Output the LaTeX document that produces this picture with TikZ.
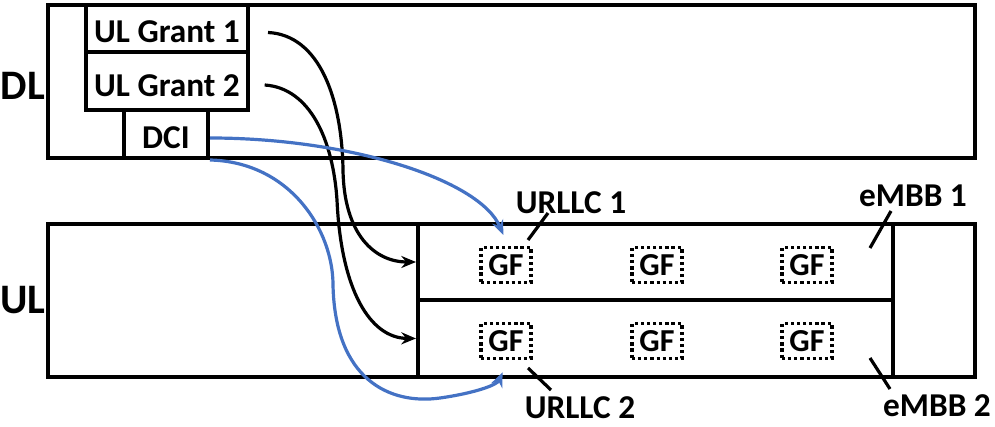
\documentclass[tikz,border=0pt]{standalone}
\usepackage{fontspec}
\setmainfont{Carlito}
\usetikzlibrary{fit,arrows.meta}
\definecolor{myblue}{HTML}{4472C4}
\begin{document}
\begin{tikzpicture}[x=0.75pt,y=-0.75pt,
  box/.style={draw, line width=3pt, inner sep=0pt, fit={#1}},
  txt/.style={font=\fontsize{25}{30}\selectfont\bfseries, inner sep=0pt},
  big/.style={font=\fontsize{31.5}{36}\selectfont\bfseries, inner sep=0pt},
  gfbox/.style={draw, line width=2.6pt, dash pattern=on 2.4pt off 2.2pt,
    minimum width=37.5pt, minimum height=26pt, inner sep=0pt,
    font=\fontsize{24}{28}\selectfont\bfseries},
  link/.style={line width=2.4pt, -{Stealth[length=11pt,width=9pt]}},
  bluelink/.style={link, draw=myblue, -{Stealth[length=11pt,width=9pt,fill=myblue]}},
  tickline/.style={line width=2.4pt}
]
\useasboundingbox (0,0) rectangle (995,427);

% DL area
\node[box={(48,5) (975,158)}] (dl) {};
\node[box={(86,5) (248,52)}] (g1) {};
\node[box={(86,52) (248,110)}] (g2) {};
\node[box={(124,110) (208,158)}] (dci) {};
\node[txt] (g1t) at (167,32) {UL Grant 1};
\node[txt] (g2t) at (167,86) {UL Grant 2};
\node[txt] (dcit) at (166,138) {DCI};
\node[big] (dllab) at (23,86) {DL};

% UL area
\node[box={(48,224) (975,377)}] (ul) {};
\node[box={(418,224) (893,300)}] (row1) {};
\node[box={(418,300) (893,377)}] (row2) {};
\node[big] (ullab) at (23,300) {UL};

% GF boxes
\node[gfbox] (gf11) at (506,265) {GF};
\node[gfbox] (gf12) at (657,265) {GF};
\node[gfbox] (gf13) at (807,265) {GF};
\node[gfbox] (gf21) at (506,341) {GF};
\node[gfbox] (gf22) at (657,341) {GF};
\node[gfbox] (gf23) at (807,341) {GF};

% labels
\node[txt] (u1) at (571,203) {URLLC 1};
\node[txt] (e1) at (913,196) {eMBB 1};
\node[txt] (u2) at (580,408) {URLLC 2};
\node[txt] (e2) at (937,406) {eMBB 2};

% label ticks
\coordinate (u1a) at (528,240); \coordinate (u1b) at (548,213);
\coordinate (e1a) at (870,248); \coordinate (e1b) at (891,211);
\coordinate (u2a) at (528,368); \coordinate (u2b) at (551,390);
\coordinate (e2a) at (870,358); \coordinate (e2b) at (890,389);
\draw[tickline] (u1a) -- (u1b);
\draw[tickline] (e1a) -- (e1b);
\draw[tickline] (u2a) -- (u2b);
\draw[tickline] (e2a) -- (e2b);

% grant connectors
\draw[link] ([xshift=13.5pt,yshift=-3pt]g1.east)
  .. controls (320,35) and (342,100) .. (343,170)
  .. controls (344,235) and (375,262) .. (row1.west);
\draw[link] ([xshift=11pt,yshift=-3pt]g2.east)
  .. controls (310,88) and (333,140) .. (337,200)
  .. controls (341,290) and (370,338) .. (row2.west);

% DCI connectors
\draw[bluelink, shorten >=9pt] ([yshift=-3pt]dci.east)
  .. controls (350,138) and (480,180) .. ([xshift=1.5pt]gf11.north);
\draw[bluelink, shorten >=10pt] (dci.south east)
  .. controls (290,162) and (333,230) .. (333,285)
  .. controls (335,380) and (390,405) .. (440,398)
  .. controls (475,393) and (497,385) .. ([xshift=1.5pt]gf21.south);
\end{tikzpicture}
\end{document}
